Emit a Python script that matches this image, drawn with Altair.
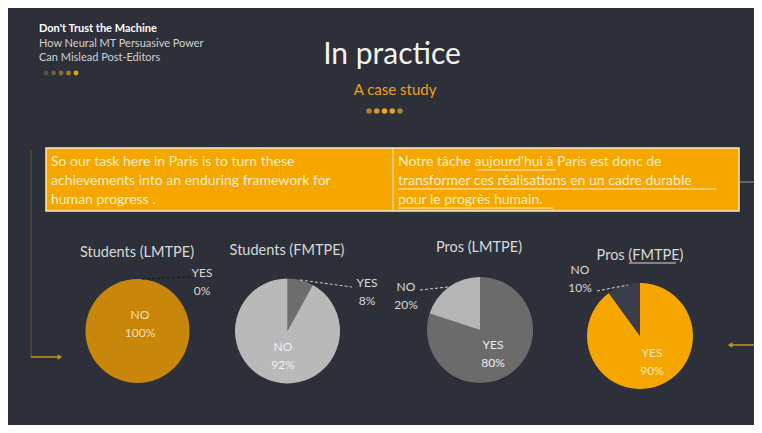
import altair as alt
import pandas as pd

# ---------------- data ----------------
groups = ["Students (LMTPE)", "Students (FMTPE)", "Pros (LMTPE)", "Pros (FMTPE)"]
answers = ["YES", "NO"]
yes_pct = [0, 8, 80, 90]
no_pct = [100, 92, 20, 10]
yes_colors = ["#c8870b", "#6e6e6e", "#6b6b6b", "#f5a600"]
no_colors = ["#c8870b", "#b9b9b9", "#b5b5b5", "#3b3e4a"]

header_lines = ["Don't Trust the Machine", "How Neural MT Persuasive Power", "Can Mislead Post-Editors"]
slide_title = "In practice"
slide_subtitle = "A case study"
source_lines = ["So our task here in Paris is to turn these",
                "achievements into an enduring framework for",
                "human progress ."]
target_lines = ["Notre tâche aujourd'hui à Paris est donc de",
                "transformer ces réalisations en un cadre durable",
                "pour le progrès humain."]
header_dot_colors = ["#5a5142", "#6b5d3e", "#86692e", "#a67d22", "#e3a212"]
sub_dot_colors = ["#a8843c", "#d99c18", "#f0aa14", "#e6a418", "#a8843c"]

# ---------------- layout (page coords -> chart coords) ----------------
W, H = 746, 417
OX, OY = 8, 8
BG = "#2e3039"
FONT = "Lato"


def px(x):
    return x - OX


def py(y):
    return y - OY


def text_layer(txt, x, y, size, color, weight="normal", align="left"):
    return alt.Chart(pd.DataFrame({"t": [txt]})).mark_text(
        align=align, baseline="middle", fontSize=size, color=color,
        fontWeight=weight, font=FONT, lineBreak="\n", lineHeight=18
    ).encode(x=alt.value(px(x)), y=alt.value(py(y)), text="t:N")


def rule_layer(x1, y1, x2, y2, color, width=1, dash=None):
    kw = dict(color=color, strokeWidth=width)
    if dash:
        kw["strokeDash"] = dash
    return alt.Chart(pd.DataFrame({"a": [0]})).mark_rule(**kw).encode(
        x=alt.value(px(x1)), y=alt.value(py(y1)),
        x2=alt.value(px(x2)), y2=alt.value(py(y2)))


def dots_layer(colors, x0, x1, y, name, size=24):
    df = pd.DataFrame({name: list(range(len(colors))), "c": colors})
    return alt.Chart(df).mark_circle(size=size, opacity=1).encode(
        x=alt.X(f"{name}:Q", scale=alt.Scale(domain=[0, len(colors) - 1], range=[px(x0), px(x1)]), axis=None),
        y=alt.value(py(y)),
        color=alt.Color("c:N", scale=None))


layers = []

# header
layers.append(text_layer(header_lines[0], 39, 29, 11, "#ffffff", weight="bold"))
layers.append(text_layer(header_lines[1], 39, 44, 11, "#d0d0d0"))
layers.append(text_layer(header_lines[2], 39, 58, 11, "#d0d0d0"))
layers.append(text_layer(slide_title, 392, 55, 30, "#f2f2f2", align="center"))
layers.append(text_layer(slide_subtitle, 395, 90, 15, "#e9a21a", align="center"))

# connector lines and arrows
layers.append(rule_layer(31, 150, 31, 357, "#6b5a35", 1))
layers.append(rule_layer(31, 357, 58, 357, "#c89020", 1.5))
layers.append(rule_layer(740, 182, 754, 182, "#9a9a9a", 1))
layers.append(rule_layer(754, 345, 732, 345, "#c89020", 1.5))
layers.append(alt.Chart(pd.DataFrame({"a": [0]})).mark_point(
    shape="triangle-right", filled=True, size=30, color="#c89020", opacity=1
).encode(x=alt.value(px(60)), y=alt.value(py(357))))
layers.append(alt.Chart(pd.DataFrame({"a": [0]})).mark_point(
    shape="triangle-left", filled=True, size=30, color="#c89020", opacity=1
).encode(x=alt.value(px(730)), y=alt.value(py(345))))

# orange box
layers.append(alt.Chart(pd.DataFrame({"a": [0]})).mark_rect(
    color="#f5a700", stroke="#f3e9cf", strokeWidth=1.5
).encode(x=alt.value(px(46)), x2=alt.value(px(739)), y=alt.value(py(148)), y2=alt.value(py(211))))
layers.append(rule_layer(393, 148, 393, 211, "#f3e9cf", 1))
for i, ln in enumerate(source_lines):
    layers.append(text_layer(ln, 51, 162 + 19 * i, 14, "#fdedc8"))
for i, ln in enumerate(target_lines):
    layers.append(text_layer(ln, 398, 162 + 19 * i, 14, "#fdedc8"))
# underlines in target text
layers.append(rule_layer(477, 170, 556, 170, "#fdedc8", 1))
layers.append(rule_layer(398, 189, 716, 189, "#fdedc8", 1))
layers.append(rule_layer(398, 208, 553, 208, "#fdedc8", 1))

# dots
layers.append(dots_layer(header_dot_colors, 46, 76, 73, "hd"))
layers.append(dots_layer(sub_dot_colors, 369, 400, 111, "sd", size=30))

# pies
centers = [(137.5, 331), (287.5, 331), (480, 330), (640, 336)]
radii = [52, 52.5, 53, 53]
title_pos = [(137, 253), (287, 251), (479, 248), (640, 256)]
for g, yv, nv, yc, nc, (cx, cy), r, (tx, ty) in zip(groups, yes_pct, no_pct, yes_colors, no_colors,
                                                     centers, radii, title_pos):
    df = pd.DataFrame({"answer": answers, "pct": [yv, nv], "ord": [0, 1], "c": [yc, nc]})
    layers.append(alt.Chart(df).mark_arc(outerRadius=r).encode(
        theta=alt.Theta("pct:Q", stack=True, scale=alt.Scale(domain=[0, 100])),
        order=alt.Order("ord:Q"),
        color=alt.Color("c:N", scale=None),
        x=alt.value(px(cx)), y=alt.value(py(cy))))
    layers.append(text_layer(g, tx, ty, 14.5, "#d8d8d8", align="center"))

# underline FMTPE in last title
layers.append(rule_layer(629, 263, 676, 263, "#d8d8d8", 1))

# pie labels (y = first line)
label_specs = [
    (0, "NO", no_pct[0], 140, 315, "#f3dfb5"),
    (0, "YES", yes_pct[0], 202, 273, "#d8d8d8"),
    (1, "NO", no_pct[1], 283, 347, "#eeeeee"),
    (1, "YES", yes_pct[1], 367, 283, "#d8d8d8"),
    (2, "YES", yes_pct[2], 493, 345, "#eeeeee"),
    (2, "NO", no_pct[2], 406, 287, "#d8d8d8"),
    (3, "YES", yes_pct[3], 652, 353, "#fbe6bf"),
    (3, "NO", no_pct[3], 580, 270, "#d8d8d8"),
]
for _, ans, val, lx, ly, col in label_specs:
    layers.append(text_layer(f"{ans}\n{val}%", lx, ly, 12, col, align="center"))

# leader lines
layers.append(rule_layer(142, 279, 190, 277, "#15161a", 1, [3, 2]))
layers.append(rule_layer(300, 280, 352, 287, "#c8c8c8", 1, [3, 2]))
layers.append(rule_layer(420, 290, 448, 287, "#d8d8d8", 1, [3, 2]))
layers.append(rule_layer(597, 291, 628, 285, "#d8d8d8", 1, [3, 2]))

chart = alt.layer(*layers).resolve_scale(x="independent", color="independent").properties(
    width=W, height=H, padding=0, autosize=alt.AutoSizeParams(type="none"), background=BG
).configure_view(stroke=None)

chart.save("out.html", embed_options={"renderer": "svg", "actions": False})
